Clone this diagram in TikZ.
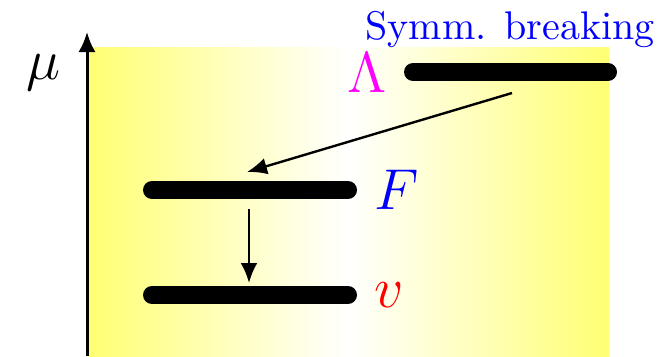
\documentclass[tikz,border=0pt]{standalone}
\usetikzlibrary{arrows.meta}
\definecolor{puremagenta}{rgb}{1,0,1}
\definecolor{pureblue}{rgb}{0,0,1}
\definecolor{purered}{rgb}{1,0,0}
\definecolor{pureyellow}{rgb}{1,1,0}
\begin{document}
\begin{tikzpicture}[x=0.25pt,y=-0.25pt,
  level/.style={line width=4.5pt,line cap=round},
  trans/.style={line width=0.6pt,-{Latex[length=5pt,width=4.2pt]}},
  axisline/.style={line width=0.75pt,-{Latex[length=5pt,width=4.3pt]}},
  lab/.style={anchor=base,font=\Large,inner sep=0pt}]
\useasboundingbox (0,0) rectangle (671,356);
\shade[left color=pureyellow!55,right color=pureyellow!55,middle color=white] (88,47) rectangle (609,356);
% axis
\coordinate (axbot) at (87,356);
\coordinate (axtop) at (87,32);
\draw[axisline] (axbot) -- (axtop);
\node[lab] (mu) at (43,79) {$\mu$};
% levels
\coordinate (La) at (413,72);
\coordinate (Lb) at (608,72);
\coordinate (Fa) at (152,190);
\coordinate (Fb) at (348,190);
\coordinate (Va) at (152,295);
\coordinate (Vb) at (348,295);
\draw[level] (La) -- (Lb);
\draw[level] (Fa) -- (Fb);
\draw[level] (Va) -- (Vb);
\node[lab,text=puremagenta] (lam) at (367,92) {$\Lambda$};
\node[lab,text=pureblue] (F) at (397,209) {$F$};
\node[lab,text=purered] (v) at (389,307) {$v$};
\node[anchor=base,text=pureblue,inner sep=0pt] (sb) at (510,39) {Symm. breaking};
% transitions
\coordinate (t1s) at (512,93);
\coordinate (t1e) at (247,172);
\coordinate (t2s) at (249,209);
\coordinate (t2e) at (249,283);
\draw[trans] (t1s) -- (t1e);
\draw[trans] (t2s) -- (t2e);
\end{tikzpicture}
\end{document}
